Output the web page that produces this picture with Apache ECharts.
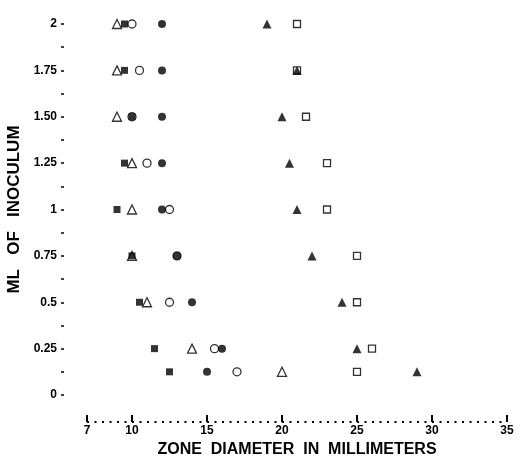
<!DOCTYPE html>
<html>
<head>
<meta charset="utf-8">
<script src="https://cdn.jsdelivr.net/npm/echarts@6/dist/echarts.min.js"></script>
<style>
html,body{margin:0;padding:0;background:#fff;}
#chart{width:521px;height:458px;}
</style>
</head>
<body>
<div id="chart"></div>
<script>
// Inoculum levels (ml) for each row
var yLevels = [2, 1.75, 1.5, 1.25, 1, 0.75, 0.5, 0.25, 0.125];
// Zone diameters (mm) per symbol series, one per row above
var filledSquare   = [9.5, 9.5, 10, 9.5, 9, 10, 10.5, 11.5, 12.5];
var openTriangle   = [9, 9, 9, 10, 10, 10, 11, 14, 20];
var openCircle     = [10, 10.5, 10, 11, 12.5, 13, 12.5, 15.5, 17];
var filledCircle   = [12, 12, 12, 12, 12, 13, 14, 16, 15];
var filledTriangle = [19, 21, 20, 20.5, 21, 22, 24, 25, 29];
var openSquare     = [21, 21, 21.6, 23, 23, 25, 25, 26, 25];

var xTickValues = [7, 10, 15, 20, 25, 30, 35];
var yTickValues = [0, 0.25, 0.5, 0.75, 1, 1.25, 1.5, 1.75, 2];
var yTickLabels = ['0', '0.25', '0.5', '0.75', '1', '1.25', '1.50', '1.75', '2'];

function pairs(xs) {
  return xs.map(function (x, i) { return [x, yLevels[i]]; });
}

var FONT = 'Liberation Sans';
var chart = echarts.init(document.getElementById('chart'), null, {renderer: 'canvas'});

function series(name, data, symbol, size, filled, z) {
  return {
    name: name,
    type: 'scatter',
    data: pairs(data),
    symbol: symbol,
    symbolSize: size,
    z: z,
    silent: true,
    itemStyle: filled
      ? {color: '#000', borderWidth: 0}
      : {color: '#fff', borderColor: '#000', borderWidth: 1.3}
  };
}

chart.setOption({
  backgroundColor: '#fff',
  animation: false,
  grid: {left: 87, right: 14, top: 24, bottom: 63, containLabel: false, outerBoundsMode: 'none'},
  xAxis: {
    type: 'value',
    min: 7,
    max: 35,
    offset: 27,
    name: 'ZONE  DIAMETER  IN  MILLIMETERS',
    nameLocation: 'middle',
    nameGap: 20,
    nameTextStyle: {fontFamily: FONT, fontWeight: 'bold', fontSize: 16, color: '#000'},
    axisLine: {show: true, onZero: false, lineStyle: {color: '#000', width: 2, type: [2, 5.5], cap: 'butt'}},
    axisTick: {show: true, inside: true, length: 7, customValues: xTickValues, lineStyle: {color: '#000', width: 2}},
    axisLabel: {customValues: xTickValues, margin: 3, fontFamily: FONT, fontWeight: 'bold', fontSize: 12, color: '#000'},
    splitLine: {show: false}
  },
  yAxis: {
    type: 'value',
    min: 0,
    max: 2,
    interval: 0.125,
    offset: 23,
    name: 'ML   OF   INOCULUM',
    nameLocation: 'middle',
    nameRotate: 90,
    nameGap: 35,
    nameTextStyle: {fontFamily: FONT, fontWeight: 'bold', fontSize: 17, color: '#000'},
    axisLine: {show: false, onZero: false},
    axisTick: {show: true, length: 3, lineStyle: {color: '#000', width: 1.5}},
    axisLabel: {
      customValues: yTickValues,
      margin: 7,
      fontFamily: FONT, fontWeight: 'bold', fontSize: 12, color: '#000',
      formatter: function (v) {
        for (var i = 0; i < yTickValues.length; i++) {
          if (Math.abs(yTickValues[i] - v) < 1e-6) return yTickLabels[i];
        }
        return '';
      }
    },
    splitLine: {show: false}
  },
  series: [
    series('open triangle', openTriangle, 'triangle', 9, false, 2),
    series('open circle', openCircle, 'circle', 8, false, 2),
    series('open square', openSquare, 'rect', 7, false, 2),
    series('filled square', filledSquare, 'rect', 7, true, 3),
    series('filled circle', filledCircle, 'circle', 8, true, 3),
    series('filled triangle', filledTriangle, 'triangle', 9, true, 3)
  ]
});
</script>
</body>
</html>
